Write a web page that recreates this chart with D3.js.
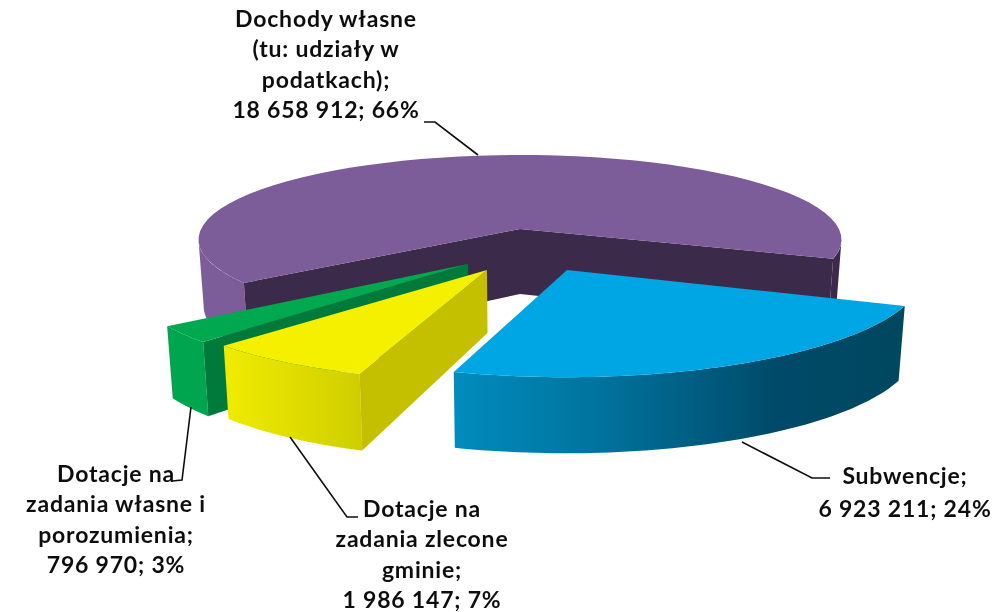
<!DOCTYPE html>
<html><head><meta charset="utf-8">
<script src="https://cdnjs.cloudflare.com/ajax/libs/d3/7.8.5/d3.min.js"></script>
<style>html,body{margin:0;padding:0;background:#fff}svg{display:block}
text{font-family:Lato,"Open Sans",sans-serif;font-weight:700;font-size:23px;fill:#111;text-anchor:middle;letter-spacing:.8px}</style>
</head><body><script>
const categories = ["Subwencje","Dotacje na zadania zlecone gminie","Dotacje na zadania własne i porozumienia","Dochody własne (tu: udziały w podatkach)"];
const values = [6923211,1986147,796970,18658912];
const topColors = ["#00a6e4","#f4f000","#00a84f","#7b5c99"];
const innerColors = ["#003f58","#c4c000","#007a3a","#3b2a48"];
const labelLines = [
  ["Subwencje;","6 923 211; 24%"],
  ["Dotacje na","zadania zlecone","gminie;","1 986 147; 7%"],
  ["Dotacje na","zadania własne i","porozumienia;","796 970; 3%"],
  ["Dochody własne","(tu: udziały w","podatkach);","18 658 912; 66%"]
];

const W=995,H=612;
const svgRoot=d3.select("body").append("svg").attr("width",W).attr("height",H);
const defs=svgRoot.append("defs");
defs.append("filter").attr("id","soft").attr("x",0).attr("y",0).attr("width",1).attr("height",1)
  .attr("filterUnits","objectBoundingBox").append("feGaussianBlur").attr("stdDeviation",.45);
const svg=svgRoot.append("g").attr("filter","url(#soft)");
svg.append("rect").attr("width",W).attr("height",H).attr("fill","#fff");
const grad=(id,x1,x2,stops)=>{const g=defs.append("linearGradient").attr("id",id).attr("gradientUnits","userSpaceOnUse")
  .attr("x1",x1).attr("x2",x2).attr("y1",0).attr("y2",0);
  stops.forEach(([o,c])=>g.append("stop").attr("offset",o).attr("stop-color",c));return `url(#${id})`;};

const sideFills=[
  grad("gb",455,905,[[0,"#008cbd"],[.35,"#00709a"],[.72,"#004a68"],[1,"#004660"]]),
  grad("gy",228,364,[[0,"#efeb00"],[1,"#cfcd00"]]),
  "#00a54f",
  "#7b5c99"
];
// slice geometry: apex on screen, disk radius, skew, height, perspective, depth
const geo=[
  {cx:567,cy:270,R:356.5,k:-1,h:104.3,p:.027,d:74},
  {cx:487,cy:270,R:328,k:-4,h:89.4,p:.189,d:63},
  {cx:468,cy:264,R:331,k:-3,h:92,p:.189,d:64},
  {cx:520,cy:229,R:319,k:0,h:83.25,p:.125,d:65}
];
const VANISH_X=520, VANISH=.016; // walls lean slightly toward the middle
const pie=d3.pie().sort(null).startAngle(110*Math.PI/180).endAngle(470*Math.PI/180);
const arcs=pie(values);
const proj=(g,a,r=1,down=0)=>{const X=Math.sin(a)*r,Y=Math.cos(a)*r,s=1/(1+g.p*Y);
  const x=g.cx+(X*g.R-Y*g.k)*s;
  return [x+(VANISH_X-x)*VANISH*down,g.cy-Y*g.h*s+down*g.d*s];};
const arcPts=(g,a0,a1,down)=>d3.range(0,61).map(i=>proj(g,a0+(a1-a0)*i/60,1,down));
const line=d3.line();
const poly=pts=>line(pts)+"Z";
const TAU=2*Math.PI;

function drawSlice(i){
  const g=geo[i],a=arcs[i],G=svg.append("g").attr("class","slice");
  const TURN=Math.acos(-g.p);
  const apexT=proj(g,0,0,0),apexB=proj(g,0,0,1);
  const top=arcPts(g,a.startAngle,a.endAngle,0);
  const wallRange=(a0,a1,f)=>{ if(a1<=a0)return;
    G.append("path").attr("d",poly(arcPts(g,a0,a1,0).concat(arcPts(g,a0,a1,1).reverse()))).attr("fill",f);};
  wallRange(Math.max(a.startAngle,TURN),Math.min(a.endAngle,TAU-TURN),sideFills[i]);
  // the part of the big slice's rim past the cut stays in shade
  wallRange(Math.max(a.startAngle,TURN+TAU),Math.min(a.endAngle,TAU-TURN+TAU),innerColors[i]);
  const wallPath=(ang,f)=>G.append("path").attr("d",poly([apexT,proj(g,ang,1,0),proj(g,ang,1,1),apexB])).attr("fill",f);
  if(i===3){wallPath(a.endAngle,innerColors[3]);wallPath(a.startAngle,innerColors[3]);}
  if(i===1||i===2){wallPath(a.startAngle,innerColors[i]);}
  G.append("path").attr("d",poly([apexT].concat(top))).attr("fill",topColors[i]);
}
[3,2,1,0].forEach(drawSlice);

// leader lines
const leaders=[
  [[742,442],[812,478],[830,478]],
  [[358,517],[347,517],[290,437]],
  [[172,481],[182,480],[191,407]],
  [[424,122],[435,122],[478,155]]
];
leaders.forEach(l=>svg.append("path").attr("d",line(l)).attr("fill","none").attr("stroke","#111").attr("stroke-width",1.6));

// labels
const labelPos=[{x:905,y:484},{x:422,y:517},{x:116,y:482},{x:326,y:27}];
labelLines.forEach((ls,i)=>{
  const t=svg.append("text").attr("x",labelPos[i].x).attr("y",labelPos[i].y);
  ls.forEach((s,j)=>t.append("tspan").attr("x",labelPos[i].x).attr("dy",j?(i===0?33:30.3):0).text(s));
});
</script></body></html>
